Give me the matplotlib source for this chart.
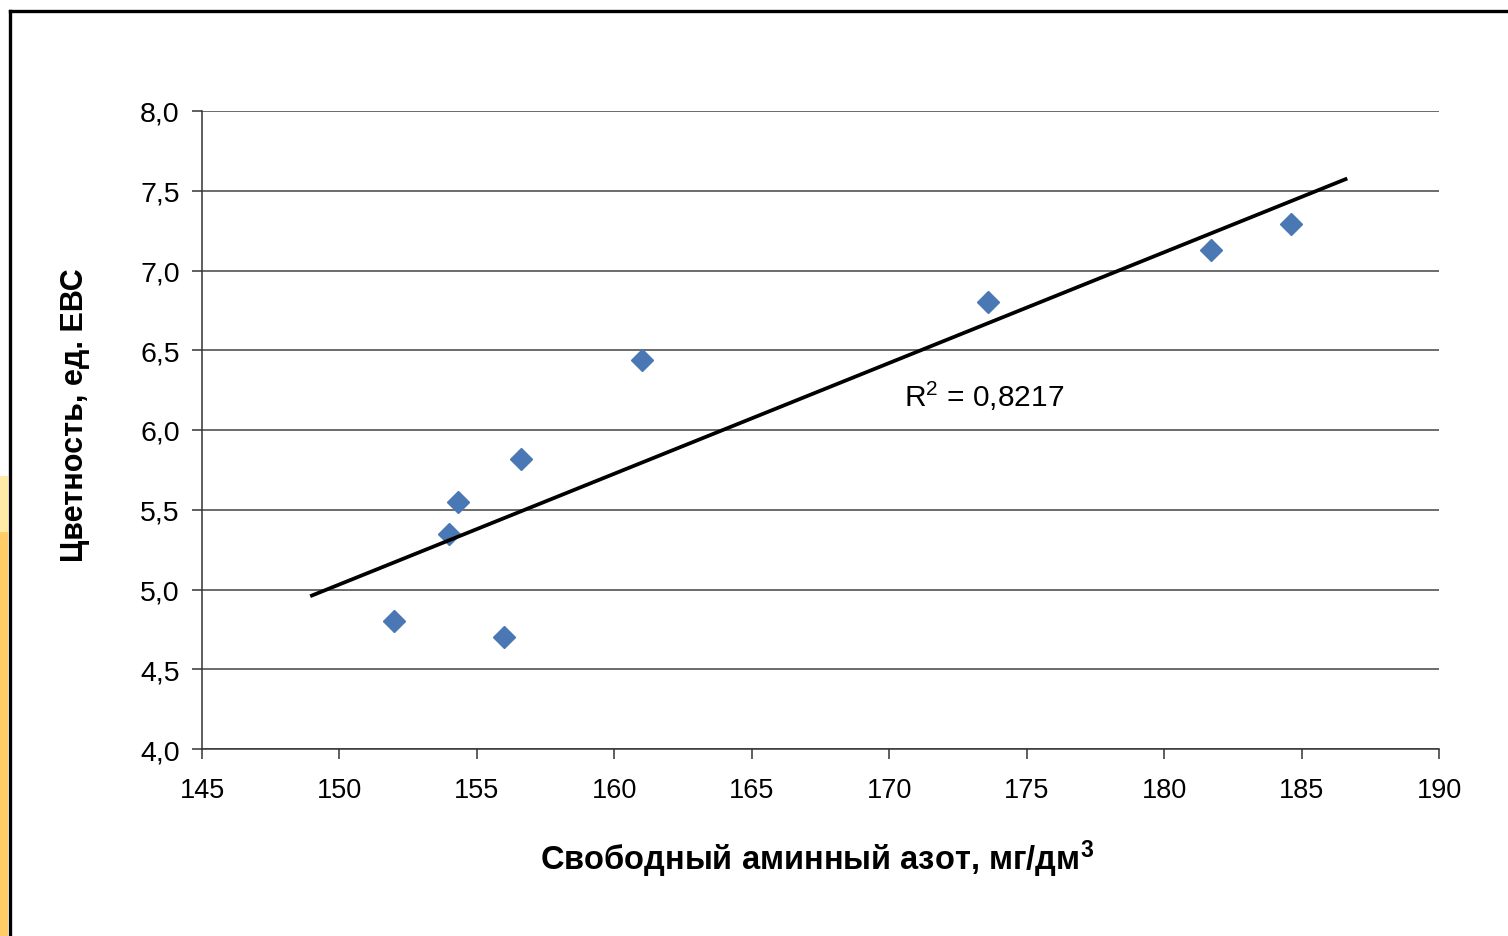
import matplotlib
matplotlib.use("Agg")
import matplotlib.pyplot as plt
from matplotlib.patches import Rectangle
import numpy as np

plt.rcParams['font.family'] = ['Liberation Sans', 'DejaVu Sans']
plt.rcParams['mathtext.fontset'] = 'custom'
plt.rcParams['mathtext.rm'] = 'Liberation Sans'
plt.rcParams['mathtext.bf'] = 'Liberation Sans:bold'
plt.rcParams['mathtext.default'] = 'regular'

# Data
amino_n = [152.0, 154.0, 154.3, 156.0, 156.6, 161.0, 173.6, 181.7, 184.6]
color_ebc = [4.80, 5.35, 5.55, 4.70, 5.82, 6.44, 6.80, 7.13, 7.29]
trend_x_range = [149.0, 186.6]
r2_text = r"R$^{2}$ = 0,8217"

x_ticks = [145, 150, 155, 160, 165, 170, 175, 180, 185, 190]
y_ticks = [4.0, 4.5, 5.0, 5.5, 6.0, 6.5, 7.0, 7.5, 8.0]
y_tick_labels = ["4,0", "4,5", "5,0", "5,5", "6,0", "6,5", "7,0", "7,5", "8,0"]

x_label = r"Свободный аминный азот, мг/дм$^{\mathbf{3}}$"
y_label = "Цветность, ед. ЕВС"

W, H = 1508, 937
fig = plt.figure(figsize=(W / 100, H / 100), dpi=100)
fig.patch.set_facecolor('white')

# scan decorations: frame and yellow strip
fig.patches.append(Rectangle((0, 0), 8 / W, (H - 533) / H, transform=fig.transFigure,
                             facecolor='#FFCC66', edgecolor='none', zorder=0))
fig.patches.append(Rectangle((0, (H - 533) / H), 8 / W, 56 / H, transform=fig.transFigure,
                             facecolor='#FFEAA8', edgecolor='none', zorder=0))
fig.add_artist(plt.Line2D([9.5 / W, 9.5 / W], [0, 1 - 11.5 / H], transform=fig.transFigure,
                          color='black', lw=2.4, solid_capstyle='projecting'))
fig.add_artist(plt.Line2D([9.5 / W, 1], [1 - 11.5 / H, 1 - 11.5 / H], transform=fig.transFigure,
                          color='black', lw=2.4, solid_capstyle='projecting'))

ax = fig.add_axes([202 / W, 1 - 750 / H, (1439 - 202) / W, (750 - 112) / H])
ax.set_xlim(145, 190)
ax.set_ylim(4.0, 8.0)

ax.set_xticks(x_ticks)
ax.set_xticklabels([str(t) for t in x_ticks])
ax.set_yticks(y_ticks)
ax.set_yticklabels(y_tick_labels)

ax.grid(axis='y', color='#444444', lw=1.1)
ax.set_axisbelow(True)
for s in ['top', 'right']:
    ax.spines[s].set_visible(False)
for s in ['left', 'bottom']:
    ax.spines[s].set_color('#333333')
    ax.spines[s].set_linewidth(1.1)

ax.tick_params(axis='both', direction='out', length=7, width=1.1, color='#333333',
               labelcolor='black')
ax.tick_params(axis='y', pad=9, labelsize=20.5)
ax.tick_params(axis='x', pad=13, labelsize=19.5)

# points
ax.plot(amino_n, color_ebc, linestyle='none', marker='D', markersize=11,
        markerfacecolor='#4A78B4', markeredgecolor='#4A78B4', zorder=3, clip_on=False)

# linear trend
k, b = np.polyfit(amino_n, color_ebc, 1)
tx = np.array(trend_x_range)
ax.plot(tx, k * tx + b, color='black', lw=2.7, zorder=4, clip_on=False)

ax.text(170.55, 6.22, r2_text, fontsize=21.5, ha='left', va='center')

ax.set_xlabel(x_label, fontsize=23.5, fontweight='bold')
ax.xaxis.set_label_coords(0.497, -0.172)
ax.xaxis.label.set_va('center')
ax.set_ylabel(y_label, fontsize=22, fontweight='bold')
ax.yaxis.set_label_coords(-0.1027, 0.525)
ax.yaxis.label.set_va('center')

fig.savefig('out.png', dpi=100)
